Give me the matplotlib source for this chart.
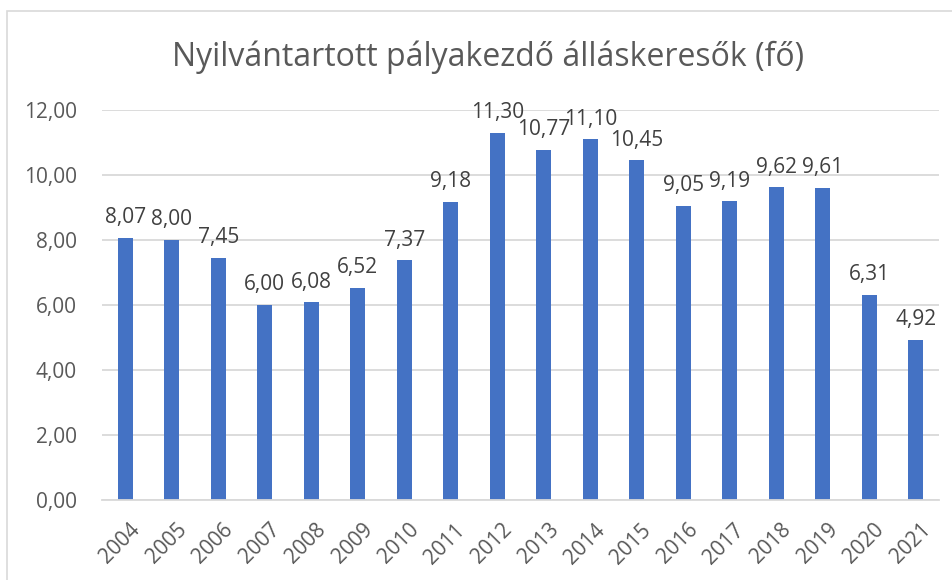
import matplotlib
matplotlib.use("Agg")
import matplotlib.pyplot as plt
from matplotlib.patches import Rectangle
from matplotlib.transforms import ScaledTranslation

years = ["2004", "2005", "2006", "2007", "2008", "2009", "2010", "2011", "2012",
         "2013", "2014", "2015", "2016", "2017", "2018", "2019", "2020", "2021"]
values = [8.07, 8.00, 7.45, 6.00, 6.08, 6.52, 7.37, 9.18, 11.30,
          10.77, 11.10, 10.45, 9.05, 9.19, 9.62, 9.61, 6.31, 4.92]
yticks = [0, 2, 4, 6, 8, 10, 12]
title = "Nyilvántartott pályakezdő álláskeresők (fő)"

plt.rcParams['font.family'] = ['Open Sans', 'DejaVu Sans']

fig = plt.figure(figsize=(9.53, 5.80), dpi=100)
ax = fig.add_axes([102/953, 1-500/580, (939-102)/953, 390/580])

x = list(range(len(years)))
bars = ax.bar(x, values, width=0.32, color="#4472C4", zorder=3)
for xi, v in zip(x, values):
    ax.annotate(f"{v:.2f}".replace(".", ","), (xi, v), xytext=(0, 7),
                textcoords="offset points", ha="center", va="bottom",
                fontsize=15, color="#404040")

ax.set_xlim(-0.5, len(years) - 0.5)
ax.set_ylim(0, 12)
ax.set_yticks(yticks)
ax.set_yticklabels([f"{t:.2f}".replace(".", ",") for t in yticks])
ax.set_xticks(x)
ax.set_xticklabels(years, rotation=45, ha="right", rotation_mode="anchor")
ax.tick_params(axis="both", length=0, labelsize=15, labelcolor="#595959")
ax.tick_params(axis="y", pad=18)
ax.tick_params(axis="x", pad=14)
off = ScaledTranslation(3/72, 0, fig.dpi_scale_trans)
for lbl in ax.get_xticklabels():
    lbl.set_transform(lbl.get_transform() + off)
ax.grid(axis="y", color="#D9D9D9", linewidth=1.3, zorder=0)
for s in ["top", "right", "left"]:
    ax.spines[s].set_visible(False)
ax.spines["bottom"].set_color("#D9D9D9")
ax.spines["bottom"].set_linewidth(1.3)
ax.spines["bottom"].set_zorder(4)

fig.text(488/953, 1-57/580, title, ha="center", va="center", fontsize=23, color="#595959")

fig.patches.append(Rectangle((7/953, -0.1), 1.2, 1-11/580 + 0.1, transform=fig.transFigure,
                             fill=False, edgecolor="#D9D9D9", linewidth=1.2))

fig.savefig("out.png", dpi=100)
